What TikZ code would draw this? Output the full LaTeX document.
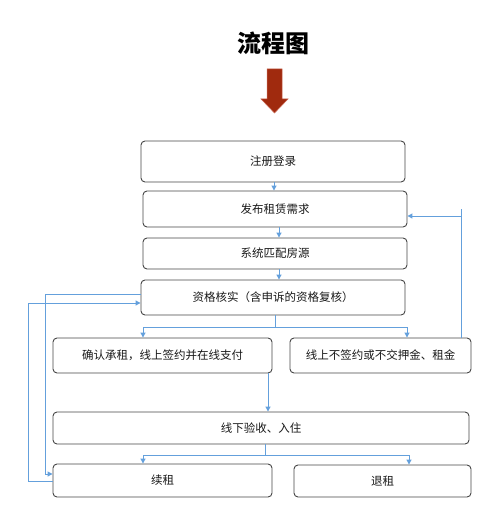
\documentclass[tikz,border=0pt]{standalone}
\usepackage{fontspec}
\newfontfamily\cjk{Noto Sans CJK SC}
\usetikzlibrary{arrows.meta}
\definecolor{lineblue}{RGB}{100,160,220}
\definecolor{boxgray}{RGB}{70,70,70}
\definecolor{txt}{RGB}{25,25,25}
\definecolor{darkred}{RGB}{160,42,14}
\definecolor{rededge}{RGB}{200,100,80}
\tikzset{
  flowbox/.style={draw=boxgray, line width=0.9pt, rounded corners=4pt, fill=white,
    inner sep=0pt, text=txt, font=\cjk\fontsize{11.5}{13}\selectfont, anchor=center},
  conn/.style={draw=lineblue, line width=1pt},
  connarrow/.style={conn, -{Triangle[length=5pt,width=5pt]}},
}
\begin{document}
\begin{tikzpicture}[x=1pt,y=-1pt]
\useasboundingbox (0,0) rectangle (489,524);
\node[font=\cjk\bfseries\fontsize{24}{26}\selectfont, text=black] (title) at (273,43) {流程图};
\fill[darkred, draw=rededge, line width=0.5pt] (267,69) -- (282,69) -- (282,99) -- (288,99) -- (274.5,113) -- (261,99) -- (267,99) -- cycle;

\node[flowbox, minimum width=264pt, minimum height=41pt] (b1) at (273,161.5) {注册登录};
\node[flowbox, minimum width=264pt, minimum height=36pt] (b2) at (275,209) {发布租赁需求};
\node[flowbox, minimum width=264pt, minimum height=31pt] (b3) at (275,253.5) {系统匹配房源};
\node[flowbox, minimum width=264pt, minimum height=35pt] (b4) at (273,297.5) {资格核实（含申诉的资格复核）};
\node[flowbox, minimum width=219pt, minimum height=35pt] (b5) at (162.5,355.5) {确认承租，线上签约并在线支付};
\node[flowbox, minimum width=181pt, minimum height=35pt] (b6) at (380.5,355.5) {线上不签约或不交押金、租金};
\node[flowbox, minimum width=416pt, minimum height=32pt] (b7) at (261,428) {线下验收、入住};
\node[flowbox, minimum width=219pt, minimum height=33pt] (b8) at (162.5,480.5) {续租};
\node[flowbox, minimum width=177pt, minimum height=32pt] (b9) at (382.5,481) {退租};

\coordinate (x28) at (28,0);
\coordinate (x45) at (45,0);
\coordinate (x143) at (143,0);
\coordinate (x265) at (265,0);
\coordinate (x268) at (268,0);
\coordinate (x275) at (275,0);
\coordinate (x279) at (279,0);
\coordinate (x407) at (407,0);
\coordinate (x409) at (409,0);
\coordinate (x461) at (461,0);
\coordinate (y209) at (0,209);
\coordinate (y216) at (0,216);
\coordinate (y294) at (0,294);
\coordinate (y303) at (0,303);
\coordinate (y327) at (0,327);
\coordinate (y455) at (0,455);
\coordinate (y474) at (0,474);
\coordinate (y481) at (0,481);

\draw[connarrow] ([xshift=1pt]b1.south) -- ([xshift=-1pt]b2.north);
\draw[connarrow] (b2.south -| x279) -- (b3.north -| x279);
\draw[connarrow] (b3.south -| x279) -- (b4.north -| x279);

\draw[conn] (b4.south -| x275) -- (x275 |- y327);
\draw[connarrow] (x275 |- y327) -| (b5.north -| x143);
\draw[connarrow] (x275 |- y327) -| (b6.north -| x407);

\draw[connarrow] (b5.south -| x268) -- (b7.north -| x268);

\draw[conn] (b7.south -| x265) -- (x265 |- y455);
\draw[connarrow] (x265 |- y455) -| (b8.north -| x143);
\draw[connarrow] (x265 |- y455) -| (b9.north -| x409);

\draw[conn] (b6.north -| x461) -- (x461 |- y209);
\draw[connarrow] (x461 |- y216) -- (b2.east |- y216);

\draw[connarrow] (b8.west |- y481) -- (x28 |- y481) -- (x28 |- y303) -- (b4.west |- y303);
\draw[connarrow] (b4.west |- y294) -- (x45 |- y294) -- (x45 |- y474) -- (b8.west |- y474);
\end{tikzpicture}
\end{document}
